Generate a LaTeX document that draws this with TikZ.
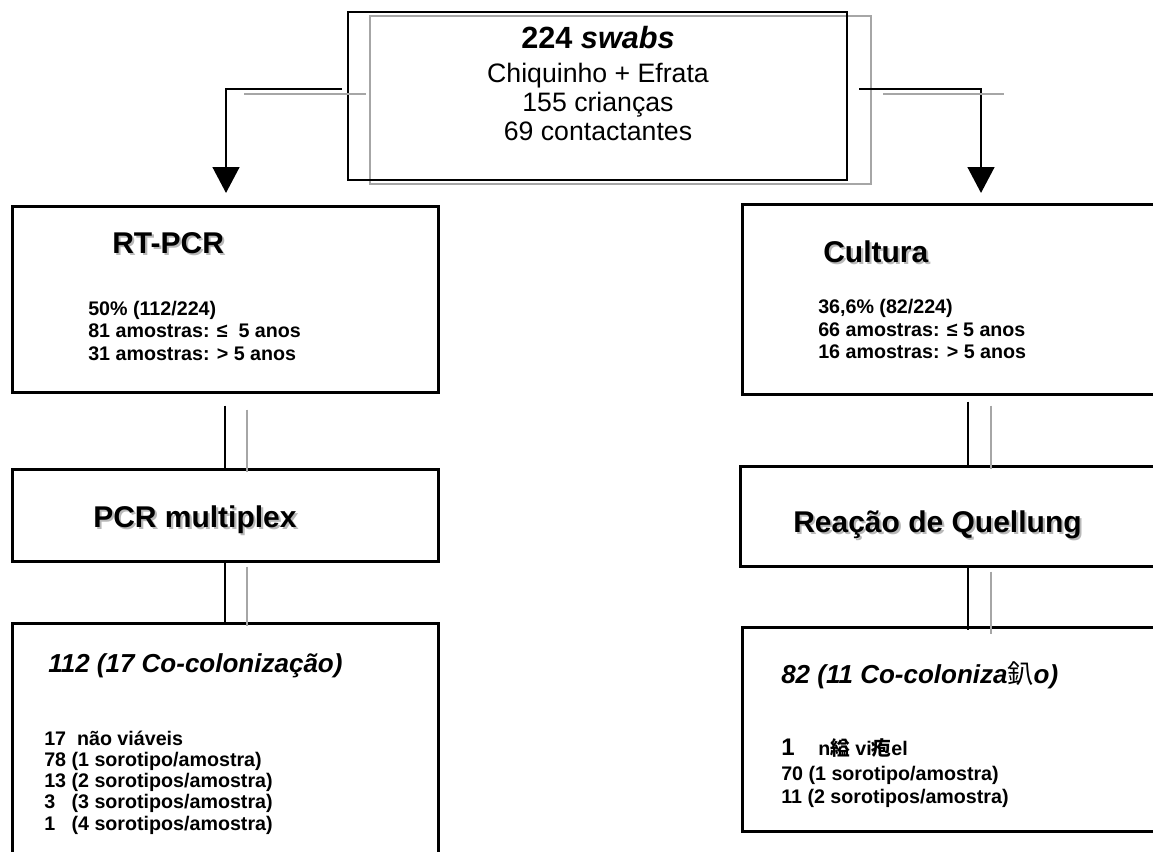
\documentclass[tikz,border=0pt]{standalone}
\usepackage{fontspec}
\setmainfont{Liberation Sans}
\newfontfamily\cjk{Noto Sans CJK JP}
\usetikzlibrary{arrows.meta}
\newcommand{\shtxt}[1]{\makebox[0pt][l]{\hspace{1.6pt}\raisebox{-1.6pt}{\textcolor{black!28}{#1}}}#1}

\begin{document}
\begin{tikzpicture}[x=0.75pt, y=-0.75pt,
  box/.style={draw, line width=2.25pt, inner sep=0pt},
  ttl/.style={anchor=base west, inner sep=0pt, font=\fontsize{22.5}{27}\selectfont\bfseries},
  sub/.style={anchor=base west, inner sep=0pt, font=\fontsize{19.5}{23}\selectfont\bfseries\itshape},
  sml/.style={anchor=base west, inner sep=0pt, font=\fontsize{14.75}{17}\selectfont\bfseries},
  ln/.style={anchor=base, inner sep=0pt, font=\fontsize{20}{24}\selectfont},
  con/.style={line width=1.5pt},
  gcon/.style={line width=1.5pt, black!35},
  arr/.style={line width=2pt, -{Triangle[length=19.5pt, width=20pt]}}]
\useasboundingbox (0,0) rectangle (1153,851);
\clip (0,0) rectangle (1153,851);

% top box
\node[draw=black!35, line width=1.5pt, inner sep=0pt, minimum width=375.75pt, minimum height=126pt] (bx0s) at (620.5,100){};
\node[draw, line width=1.5pt, inner sep=0pt, minimum width=374.25pt, minimum height=126pt] (bx0) at (597.5,96){};
\node[ln, font=\fontsize{23}{27}\selectfont\bfseries] (t0) at (598,48){224 \textit{swabs}};
\node[ln] (t1) at (598,82){Chiquinho + Efrata};
\node[ln] (t2) at (598,111){155 crianças};
\node[ln] (t3) at (598,140){69 contactantes};

% arrows down
\coordinate (la) at (226,193);
\coordinate (ra) at (981,193);
\draw[arr] ([xshift=-3.75pt,yshift=5.25pt]bx0.west) -| (la);
\draw[arr] ([xshift=8.25pt,yshift=5.25pt]bx0.east) -| (ra);
\draw[gcon] ([xshift=-2.25pt,yshift=4.5pt]bx0s.west) -- ++(-122,0);
\draw[gcon] ([xshift=8.25pt,yshift=4.5pt]bx0s.east) -- ++(121,0);

% left column
\node[box, minimum width=319.5pt, minimum height=139.5pt] (bx1) at (225,299){};
\node[ttl] (t4) at (112,253){\shtxt{RT-PCR}};
\node[sml] (t5) at (88,315){50\% (112/224)};
\node[sml] (t6) at (88,337){81 amostras: ≤\ \ 5 anos};
\node[sml] (t7) at (88,360){31 amostras: > 5 anos};

\node[box, minimum width=319.5pt, minimum height=69pt] (bx3) at (225,515){};
\node[ttl] (t8) at (93,527){\shtxt{PCR multiplex}};

\node[box, minimum width=319.5pt, minimum height=207.75pt] (bx5) at (225,761.5){};
\node[sub] (t9) at (48,672){112 (17 Co-colonização)};
\node[sml] (t10) at (44,745){17\ \ não viáveis};
\node[sml] (t11) at (44,766){78 (1 sorotipo/amostra)};
\node[sml] (t12) at (44,787){13 (2 sorotipos/amostra)};
\node[sml] (t13) at (44,808){\makebox[20.5pt][l]{3}(3 sorotipos/amostra)};
\node[sml] (t14) at (44,830){\makebox[20.5pt][l]{1}(4 sorotipos/amostra)};

% right column
\node[box, minimum width=339pt, minimum height=142.5pt] (bx2) at (968,299){};
\node[ttl] (t15) at (823,262){\shtxt{Cultura}};
\node[sml] (t16) at (818,313){36,6\% (82/224)};
\node[sml] (t17) at (818,336){66 amostras: ≤ 5 anos};
\node[sml] (t18) at (818,358){16 amostras: > 5 anos};

\node[box, minimum width=342pt, minimum height=75pt] (bx4) at (968,516){};
\node[ttl] (t19) at (793,532){\shtxt{Reação de Quellung}};

\node[box, minimum width=339pt, minimum height=153pt] (bx6) at (968,729){};
\node[sub] (t20) at (781,683){82 (11 Co-coloniza{\cjk\mdseries\upshape 釟}o)};
\node[sml] (t21) at (781,755){\makebox[27.75pt][l]{\fontsize{18}{20}\selectfont 1}n{\cjk 縊}\ vi{\cjk 疱}el};
\node[sml] (t22) at (781,780){70 (1 sorotipo/amostra)};
\node[sml] (t23) at (781,803){11 (2 sorotipos/amostra)};

% links
\draw[con, shorten <=9pt] (bx1.south) -- (bx3.north);
\draw[con] (bx3.south) -- (bx5.north);
\draw[con, shorten <=4.5pt] (bx2.south) -- (bx4.north);
\draw[con, shorten >=-3pt] (bx4.south) -- (bx6.north);
\draw[gcon, shorten <=9pt] ([xshift=16.5pt,yshift=-3pt]bx1.south) -- ([xshift=16.5pt,yshift=-3pt]bx3.north);
\draw[gcon] ([xshift=16.5pt,yshift=-3pt]bx3.south) -- ([xshift=16.5pt,yshift=-3pt]bx5.north);
\draw[gcon, shorten <=4.5pt] ([xshift=17.25pt,yshift=-3pt]bx2.south) -- ([xshift=17.25pt,yshift=-3pt]bx4.north);
\draw[gcon, shorten >=-3pt] ([xshift=17.25pt,yshift=-3pt]bx4.south) -- ([xshift=17.25pt,yshift=-3pt]bx6.north);

\end{tikzpicture}
\end{document}
